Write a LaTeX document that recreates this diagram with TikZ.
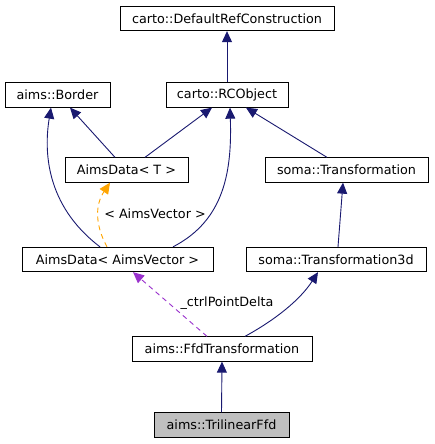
\documentclass[tikz,border=0pt]{standalone}
\usepackage{fontspec}
\setmainfont{DejaVu Sans}
\usetikzlibrary{arrows.meta,calc}
\definecolor{edgeblue}{HTML}{191970}
\definecolor{tmplorange}{HTML}{FFA500}
\definecolor{usepurple}{HTML}{9A32CD}
\definecolor{leafgray}{HTML}{BFBFBF}
\begin{document}
\begin{tikzpicture}[x=1bp,y=-1bp,
  box/.style={draw=black,line width=0.8bp,fill=white,inner sep=0pt,
    minimum height=24.5bp,font=\fontsize{12.8}{15}\selectfont},
  lbl/.style={inner sep=0pt,font=\fontsize{12.8}{15}\selectfont},
  inh/.style={draw=edgeblue,line width=0.9bp,-{Triangle[length=11bp,width=10bp]}},
  tmpl/.style={draw=tmplorange,line width=0.9bp,dashed,dash pattern=on 5bp off 4bp,-{Triangle[length=11bp,width=10bp]}},
  usage/.style={draw=usepurple,line width=0.9bp,dash pattern=on 5bp off 4bp,-{Triangle[length=11bp,width=10bp]}}]
\useasboundingbox[fill=white] (0,0) rectangle (435,444);

\node[box,minimum width=214bp] (drc) at (227,18.5) {carto::DefaultRefConstruction};
\node[box,minimum width=105bp] (border) at (57.5,95) {aims::Border};
\node[box,minimum width=122bp] (rc) at (227,95) {carto::RCObject};
\node[box,minimum width=123bp] (aT) at (126.5,170) {AimsData< T >};
\node[box,minimum width=163bp] (tr) at (346.5,170) {soma::Transformation};
\node[box,minimum width=191bp] (aav) at (117.5,259.5) {AimsData< AimsVector >};
\node[box,minimum width=180bp] (tr3) at (336,259.5) {soma::Transformation3d};
\node[box,minimum width=180bp] (ffd) at (222,349) {aims::FfdTransformation};
\node[box,minimum width=135bp,fill=leafgray] (tri) at (221.5,425) {aims::TrilinearFfd};

\draw[inh] (rc.north) -- (drc.south);
\draw[inh] ($(aT.north)+(-11.5,0)$) -- ($(border.south)+(12.5,0)$);
\draw[inh] ($(aT.north)+(18.5,0)$) -- ($(rc.south)+(-15,0)$);
\draw[inh] ($(tr.north)+(-19.5,0)$) -- ($(rc.south)+(19,0)$);
\draw[inh] ($(aav.north)+(-17.5,0)$) .. controls (45,205) and (44,150) .. ($(border.south)+(-6.5,0)$);
\draw[inh] ($(aav.north)+(55.5,0)$) .. controls (225,220) and (232,170) .. ($(rc.south)+(3,0)$);
\draw[tmpl] ($(aav.north)+(-10.5,0)$) .. controls (95,225) and (95,205) .. ($(aT.south)+(-16.5,0)$);
\node[lbl] (lblAV) at (155,214) {< AimsVector >};
\draw[inh] ($(tr3.north)+(2,0)$) -- ($(tr.south)+(-3.5,0)$);
\draw[inh] ($(ffd.north)+(23,0)$) .. controls (275,320) and (300,300) .. ($(tr3.south)+(-18,0)$);
\draw[usage] ($(ffd.north)+(-15,0)$) -- ($(aav.south)+(15.5,0)$);
\node[lbl] (lblCtrl) at (227,303.5) {\_ctrlPointDelta};
\draw[inh] (tri.north) -- (ffd.south);
\end{tikzpicture}
\end{document}
